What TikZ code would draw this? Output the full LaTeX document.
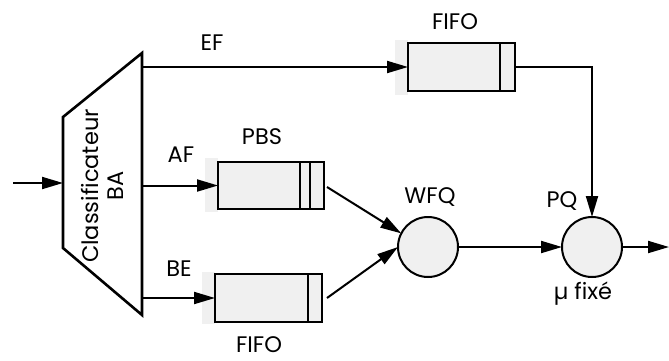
\documentclass[tikz,border=0pt]{standalone}
\usepackage{fontspec}
\setmainfont{Poppins}
\usetikzlibrary{arrows.meta}
\definecolor{qfill}{HTML}{F0F0F0}
\begin{document}
\begin{tikzpicture}[x=1pt,y=-1pt,
  wire/.style={line width=2pt},
  flow/.style={wire,-{Triangle[length=21pt,width=12pt]}},
  queuebox/.style={draw,line width=2pt,fill=qfill,minimum width=107pt,minimum height=48pt,inner sep=0pt,outer sep=0pt},
  server/.style={circle,draw,line width=2pt,fill=qfill,minimum size=60pt,inner sep=0pt,outer sep=0pt},
  lbl/.style={font=\fontsize{22.5}{25}\selectfont,inner sep=0pt}
]
\useasboundingbox (0,0) rectangle (669,360);

% classifier (trapezium)
\draw[line width=2.6pt,line join=miter] (63,117) -- (142,53) -- (142,315) -- (63,248) -- cycle;
\node[lbl,rotate=90,align=center] (cls) at (102,186) {Classificateur\\BA};
\coordinate (in) at (13,183);
\coordinate (clsin) at (63,183);
\coordinate (efout) at (142,67);
\coordinate (afout) at (142,185.5);
\coordinate (beout) at (142,298);

% queue side strips
\fill[qfill] (395,40) rectangle (408,95);
\fill[qfill] (205,158) rectangle (218,212);
\fill[qfill] (202,272) rectangle (215,324);

% queues
\node[queuebox] (fifoA) at (461.5,67) {};
\draw[wire] ([xshift=-15pt]fifoA.north east) -- ([xshift=-15pt]fifoA.south east);
\node[queuebox,minimum width=106pt,minimum height=47pt] (pbs) at (271,185.5) {};
\draw[wire] ([xshift=-24pt]pbs.north east) -- ([xshift=-24pt]pbs.south east);
\draw[wire] ([xshift=-14pt]pbs.north east) -- ([xshift=-14pt]pbs.south east);
\node[queuebox] (fifoB) at (268.5,298) {};
\draw[wire] ([xshift=-14pt]fifoB.north east) -- ([xshift=-14pt]fifoB.south east);

% schedulers
\node[server] (wfq) at (428,247) {};
\node[server] (pq) at (592,247) {};
\coordinate (out) at (669,247);

% labels
\node[lbl] (lef) at (212,43) {EF};
\node[lbl] (lfifoA) at (455,22) {FIFO};
\node[lbl] (lpbs) at (262,137) {PBS};
\node[lbl] (laf) at (181,155) {AF};
\node[lbl] (lbe) at (179,269) {BE};
\node[lbl] (lfifoB) at (259,345) {FIFO};
\node[lbl] (lwfq) at (430,197) {WFQ};
\node[lbl] (lpq) at (562,201) {PQ};
\node[lbl] (lmu) at (583,294) {µ fixé};

% connectors
\draw[flow] (in) -- (clsin);
\draw[flow] (efout) -- (fifoA.west);
\draw[flow] (afout) -- (pbs.west);
\draw[flow] (beout) -- (fifoB.west);
\draw[flow] ([xshift=3pt,yshift=-1.5pt]pbs.east) -- (wfq.153);
\draw[flow] ([xshift=5pt]fifoB.east) -- (wfq.180);
\draw[flow] (fifoA.east) -| (pq.north);
\draw[flow] (wfq) -- (pq);
\draw[flow] (pq) -- (out);
\end{tikzpicture}
\end{document}
